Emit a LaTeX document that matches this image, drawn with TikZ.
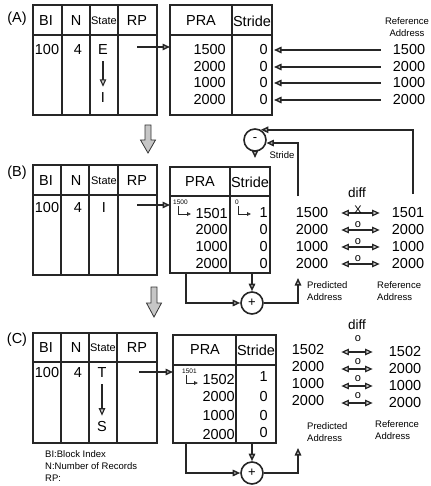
\documentclass[tikz,border=0pt]{standalone}
\usepackage{fontspec}
\setmainfont{Liberation Sans}
\usetikzlibrary{arrows.meta,calc}
\begin{document}
\begin{tikzpicture}[x=1pt,y=-1pt,
  outer/.style={draw=black!85, line width=2.2pt},
  inner/.style={draw=black!85, line width=1.3pt},
  box/.style={rectangle, outer, inner sep=0pt, outer sep=0pt},
  hdr/.style={font=\fontsize{14.5}{14.5}\selectfont, inner sep=0pt},
  sthdr/.style={font=\fontsize{11}{11}\selectfont, inner sep=0pt},
  num/.style={font=\fontsize{14.5}{14.5}\selectfont, inner sep=0pt},
  lbl/.style={font=\fontsize{9.5}{12}\selectfont, inner sep=0pt, align=left},
  tiny/.style={font=\fontsize{6.5}{6.5}\selectfont, inner sep=0pt},
  mk/.style={font=\fontsize{11}{11}\selectfont, inner sep=0pt},
  tipA/.tip={Triangle[length=7.5pt,width=6.5pt,fill=gray!40]},
  conn/.style={draw=black!85, line width=1.5pt, -tipA},
  thin/.style={draw=black!85, line width=1.1pt, -tipA},
  dbl/.style={draw=black!85, line width=1.2pt, tipA-tipA},
  hook/.style={draw=black!85, line width=0.8pt, -{Triangle[length=4pt,width=3.5pt,fill=gray!40]}},
  op/.style={circle, draw=black!85, line width=1.6pt, minimum size=22pt, inner sep=0pt, font=\fontsize{13}{13}\selectfont},
  bigarrow/.style={draw=black!80, fill=gray!45, line width=0.8pt},
]
\useasboundingbox (0,0) rectangle (430,486);

% ================= Panel A =================
\node[hdr] (labA) at (17,19) {(A)};
\node[box, minimum width=124pt, minimum height=110pt] (Al) at (95,60) {};
\draw[outer] (33,35) -- (157,35);
\draw[inner] (62,5) -- (62,115) (90,5) -- (90,115) (118,5) -- (118,115);
\node[box, minimum width=102pt, minimum height=110pt] (Ar) at (221,60) {};
\draw[outer] (170,35) -- (272,35);
\draw[inner] (232,5) -- (232,115);

\node[hdr] (Abi) at (46,21) {BI};
\node[hdr] (An) at (76,21) {N};
\node[sthdr] (Ast) at (104,21) {State};
\node[hdr] (Arp) at (137,21) {RP};
\node[hdr] (Apra) at (201,21) {PRA};
\node[hdr] (Astr) at (252,21) {Stride};

\node[num] (Abiv) at (47,50) {100};
\node[num] (Anv) at (78,50) {4};
\node[num] (AE) at (103,50) {E};
\node[num] (AI) at (103,98) {I};
\draw[thin, shorten <=6pt, shorten >=6pt] (AE) -- (AI);

\coordinate (Arpout) at (137,47);
\draw[conn] (Arpout) -- (Arpout -| Ar.west);

\node[num, anchor=east] (Ap1) at (226,50) {1500};
\node[num, anchor=east] (Ap2) at (226,67) {2000};
\node[num, anchor=east] (Ap3) at (226,83) {1000};
\node[num, anchor=east] (Ap4) at (226,100) {2000};
\node[num, anchor=east] (As1) at (268,50) {0};
\node[num, anchor=east] (As2) at (268,67) {0};
\node[num, anchor=east] (As3) at (268,83) {0};
\node[num, anchor=east] (As4) at (268,100) {0};

\node[lbl, align=center] (Areflbl) at (407,27) {Reference\\Address};
\node[num] (Ar1) at (409,50) {1500};
\node[num] (Ar2) at (409,67) {2000};
\node[num] (Ar3) at (409,83) {1000};
\node[num] (Ar4) at (409,100) {2000};
\foreach \i in {1,2,3,4}
  \draw[conn, shorten <=12pt, shorten >=6pt] (Ar\i.west) -- (As\i.east);

% block arrow A -> B
\draw[bigarrow] (145,125) -- (151,125) -- (151,140) -- (155.5,140) -- (148,153) -- (140.5,140) -- (145,140) -- cycle;

% ================= Panel B =================
\node[hdr] (labB) at (17,173) {(B)};
\node[box, minimum width=124pt, minimum height=110pt] (Bl) at (95,220) {};
\draw[outer] (33,195) -- (157,195);
\draw[inner] (61,165) -- (61,275) (89,165) -- (89,275) (118,165) -- (118,275);
\node[box, minimum width=100pt, minimum height=106pt] (Br) at (220,220) {};
\draw[outer] (170,196) -- (270,196);
\draw[inner] (230,167) -- (230,273);

\node[hdr] (Bbi) at (46,181) {BI};
\node[hdr] (Bn) at (76,181) {N};
\node[sthdr] (Bst) at (104,181) {State};
\node[hdr] (Brp) at (137,181) {RP};
\node[hdr] (Bpra) at (200,182) {PRA};
\node[hdr] (Bstr) at (250,182) {Stride};

\node[num] (Bbiv) at (47,208) {100};
\node[num] (Bnv) at (78,208) {4};
\node[num] (BI) at (104,208) {I};

\coordinate (Brpout) at (137,205);
\draw[conn] (Brpout) -- (Brpout -| Br.west);

\node[tiny, anchor=west] (Bold) at (173,202) {1500};
\draw[hook] (178,206) -- (178,214) -- (191,214);
\node[num, anchor=east] (Bp1) at (228,214) {1501};
\node[num, anchor=east] (Bp2) at (228,230) {2000};
\node[num, anchor=east] (Bp3) at (228,247) {1000};
\node[num, anchor=east] (Bp4) at (228,264) {2000};
\node[tiny] (Bsold) at (237,202) {0};
\draw[hook] (238,206) -- (238,214) -- (251,214);
\node[num, anchor=east] (Bs1) at (268,213) {1};
\node[num, anchor=east] (Bs2) at (268,230) {0};
\node[num, anchor=east] (Bs3) at (268,247) {0};
\node[num, anchor=east] (Bs4) at (268,264) {0};

% minus operator
\node[op] (minus) at (255,140) {-};
\node[lbl] (strlbl) at (282,155) {Stride};
\draw[conn, shorten >=9pt] (minus.south) -- (minus.south |- Br.north);

% diff comparison
\node[num, font=\fontsize{13.5}{13.5}\selectfont] (Bdiff) at (357,193) {diff};
\node[num] (BP1) at (312,213) {1500};
\node[num] (BP2) at (312,230) {2000};
\node[num] (BP3) at (312,247) {1000};
\node[num] (BP4) at (312,264) {2000};
\node[num] (BR1) at (408,213) {1501};
\node[num] (BR2) at (408,230) {2000};
\node[num] (BR3) at (408,247) {1000};
\node[num] (BR4) at (408,264) {2000};
\foreach \i in {1,2,3,4}
  \draw[dbl, shorten <=13pt, shorten >=12pt] (BP\i.east) -- (BR\i.west);
\node[mk] (Bm1) at (358,210) {X};
\node[mk] (Bm2) at (358,225) {o};
\node[mk] (Bm3) at (358,242) {o};
\node[mk] (Bm4) at (358,259) {o};

% feedback lines to minus
\coordinate (Bptop) at (298,196);
\coordinate (Brtop) at (413,194);
\draw[conn] (Bptop) |- (minus.-15);
\draw[conn] (Brtop) |- (minus.60);

% plus operator
\node[op] (plusB) at (252,303) {+};
\coordinate (BprOut) at (186,273);
\coordinate (BpredIn) at (298,278);
\draw[conn] (plusB.north |- Br.south) -- (plusB.north);
\draw[conn] (BprOut) |- (plusB.west);
\draw[conn] (plusB.east) -| (BpredIn);
\node[lbl, anchor=north west] (BPlbl) at (307,281) {Predicted\\Address};
\node[lbl, anchor=north west] (BRlbl) at (377,281) {Reference\\Address};

% block arrow B -> C
\draw[bigarrow] (151,287) -- (157,287) -- (157,303) -- (161.5,303) -- (154,317) -- (146.5,303) -- (151,303) -- cycle;

% ================= Panel C =================
\node[hdr] (labC) at (17,340) {(C)};
\node[box, minimum width=124pt, minimum height=110pt] (Cl) at (95,388) {};
\draw[outer] (33,362) -- (157,362);
\draw[inner] (61,333) -- (61,443) (89,333) -- (89,443) (117,333) -- (117,443);
\node[box, minimum width=103pt, minimum height=108pt] (Cr) at (224.5,389) {};
\draw[outer] (173,365) -- (276,365);
\draw[inner] (236,335) -- (236,443);

\node[hdr] (Cbi) at (46,348) {BI};
\node[hdr] (Cn) at (76,348) {N};
\node[sthdr] (Cst) at (103,348) {State};
\node[hdr] (Crp) at (137,348) {RP};
\node[hdr] (Cpra) at (205,350) {PRA};
\node[hdr] (Cstr) at (256,350) {Stride};

\node[num] (Cbiv) at (47,373) {100};
\node[num] (Cnv) at (78,373) {4};
\node[num] (CT) at (102,373) {T};
\node[num] (CS) at (102,427) {S};
\draw[thin, shorten <=6pt, shorten >=6pt] (CT) -- (CS);

\coordinate (Crpout) at (139,372);
\draw[conn] (Crpout) -- (Crpout -| Cr.west);

\node[tiny, anchor=west] (Cold) at (182,371) {1501};
\draw[hook] (186,375) -- (186,383) -- (198,383);
\node[num, anchor=east] (Cp1) at (235,380) {1502};
\node[num, anchor=east] (Cp2) at (235,397) {2000};
\node[num, anchor=east] (Cp3) at (235,416) {1000};
\node[num, anchor=east] (Cp4) at (235,435) {2000};
\node[num, anchor=east] (Cs1) at (268,377) {1};
\node[num, anchor=east] (Cs2) at (268,397) {0};
\node[num, anchor=east] (Cs3) at (268,416) {0};
\node[num, anchor=east] (Cs4) at (268,433) {0};

\node[num, font=\fontsize{13.5}{13.5}\selectfont] (Cdiff) at (357,325) {diff};
\node[num] (CP1) at (308,350) {1502};
\node[num] (CP2) at (308,367) {2000};
\node[num] (CP3) at (308,384) {1000};
\node[num] (CP4) at (308,401) {2000};
\node[num] (CR1) at (405,352) {1502};
\node[num] (CR2) at (405,369) {2000};
\node[num] (CR3) at (405,386) {1000};
\node[num] (CR4) at (405,403) {2000};
\foreach \i in {1,2,3,4}
  \draw[dbl, shorten <=17pt, shorten >=16pt] (CP\i.east |- CR\i.west) -- (CR\i.west);
\node[mk] (Cm1) at (358,339) {o};
\node[mk] (Cm2) at (358,362) {o};
\node[mk] (Cm3) at (358,379) {o};
\node[mk] (Cm4) at (358,396) {o};
\node[lbl, anchor=north west] (CPlbl) at (307,422) {Predicted\\Address};
\node[lbl, anchor=north west] (CRlbl) at (375,420) {Reference\\Address};

\node[op] (plusC) at (252,473) {+};
\coordinate (CprOut) at (186,443);
\coordinate (CpredIn) at (298,448);
\draw[conn] (plusC.north |- Cr.south) -- (plusC.north);
\draw[conn] (CprOut) |- (plusC.west);
\draw[conn] (plusC.east) -| (CpredIn);

% legend
\node[lbl, anchor=north west] (legend) at (45,450) {BI:Block Index\\N:Number of Records\\RP:};
\end{tikzpicture}
\end{document}
